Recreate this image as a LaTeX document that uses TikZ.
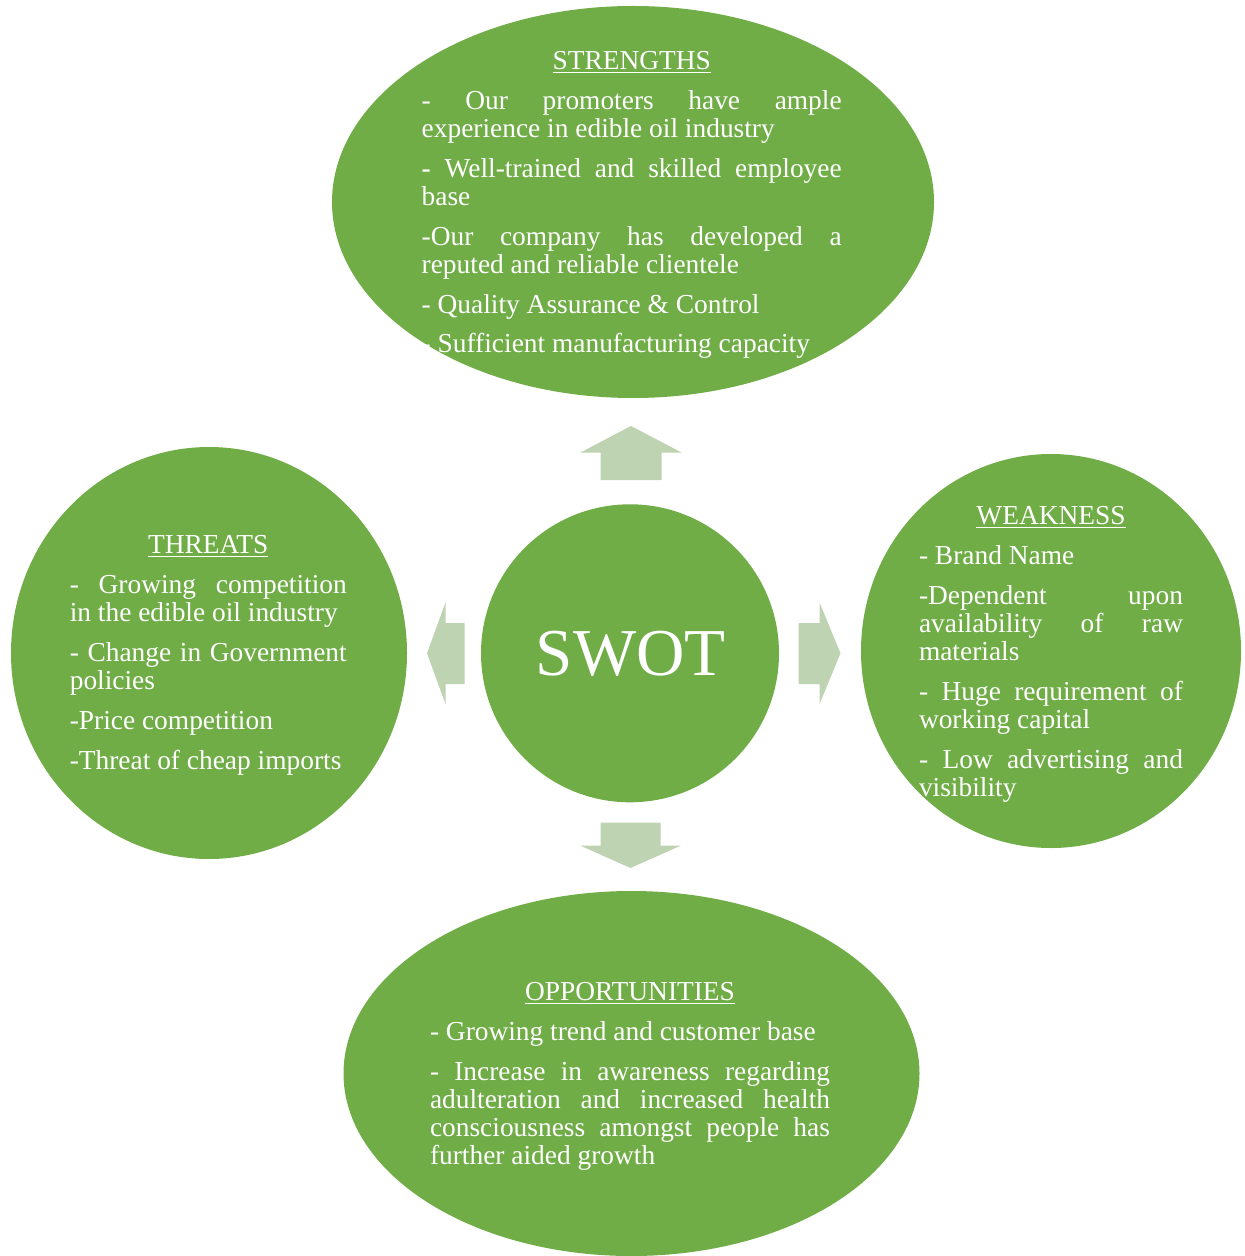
\documentclass[tikz,border=0pt]{standalone}
\usepackage{fontspec}
\setmainfont{Liberation Serif}
\usetikzlibrary{shapes.geometric}
\definecolor{swotgreen}{HTML}{70AD47}
\definecolor{arrowgreen}{HTML}{BDD3B1}
\newcommand{\swotbody}{\fontsize{13.7pt}{14.1pt}\selectfont\hyphenpenalty=10000\exhyphenpenalty=10000}
\newcommand{\swothead}[1]{\centerline{\underline{#1}}\par}
\begin{document}
\begin{tikzpicture}[x=0.5pt,y=-0.5pt,
  bubble/.style={ellipse, fill=swotgreen, draw=none, inner sep=0pt},
  bodytext/.style={text=white, align=justify, inner sep=0pt, font=\swotbody, anchor=base},
  blockarrow/.style={fill=arrowgreen, draw=none}]
\useasboundingbox (0,0) rectangle (1245,1256);

% bubbles
\node[bubble, minimum width=301pt, minimum height=196pt] (strengths) at (633,202) {};
\node[bubble, minimum width=198pt, minimum height=206pt] (threats) at (209,653) {};
\node[bubble, minimum width=149pt, minimum height=149pt] (swot) at (630,653.3) {};
\node[bubble, minimum width=190pt, minimum height=197pt] (weakness) at (1051,651) {};
\node[bubble, minimum width=288pt, minimum height=182.5pt] (opps) at (631.5,1073.5) {};

% block arrows
\fill[blockarrow] (600.5,480) -- (600.5,452.5) -- (580.5,452.5) -- (631,426)
  -- (681.5,452.5) -- (661.5,452.5) -- (661.5,480) -- cycle;
\fill[blockarrow] (600.5,822.5) -- (660.5,822.5) -- (660.5,845.5) -- (681,845.5)
  -- (630.5,868) -- (580,845.5) -- (600.5,845.5) -- cycle;
\fill[blockarrow] (464.5,623) -- (445.5,623) -- (445.5,602.5) -- (427,653.3)
  -- (445.5,704) -- (445.5,684) -- (464.5,684) -- cycle;
\fill[blockarrow] (798.5,623) -- (819.5,623) -- (819.5,602.5) -- (840.5,653.3)
  -- (819.5,704) -- (819.5,684) -- (798.5,684) -- cycle;

% centre label
\node[text=white, inner sep=0pt, anchor=base, font=\fontsize{33.5pt}{40pt}\selectfont] (swotlabel) at (630.8,675) {SWOT};

% texts
\node[bodytext, text width=210pt] (stext) at (631.7,69.3) {\setlength{\parskip}{5.8pt}%
\swothead{STRENGTHS}
- Our promoters have ample\linebreak experience in edible oil industry\par
\textbf{-} Well-trained and skilled employee\linebreak base\par
-Our company has developed a\linebreak reputed and reliable clientele\par
- Quality Assurance \& Control\par
- Sufficient manufacturing capacity};

\node[bodytext, text width=138.5pt] (ttext) at (208.3,553.8) {\setlength{\parskip}{5.8pt}%
\swothead{THREATS}
- Growing competition\linebreak in the edible oil industry\par
- Change in Government\linebreak policies\par
-Price competition\par
-Threat of cheap imports};

\node[bodytext, text width=132pt] (wtext) at (1051,524.5) {\setlength{\parskip}{5.8pt}%
\swothead{WEAKNESS}
- Brand Name\par
-Dependent upon\linebreak availability of raw\linebreak materials\par
- Huge requirement of\linebreak working capital\par
- Low advertising and\linebreak visibility};

\node[bodytext, text width=200pt] (otext) at (630,1000.5) {\setlength{\parskip}{5.8pt}%
\swothead{OPPORTUNITIES}
- Growing trend and customer base\par
- Increase in awareness regarding\linebreak adulteration and increased health\linebreak consciousness amongst people has\linebreak further aided growth};
\end{tikzpicture}
\end{document}
